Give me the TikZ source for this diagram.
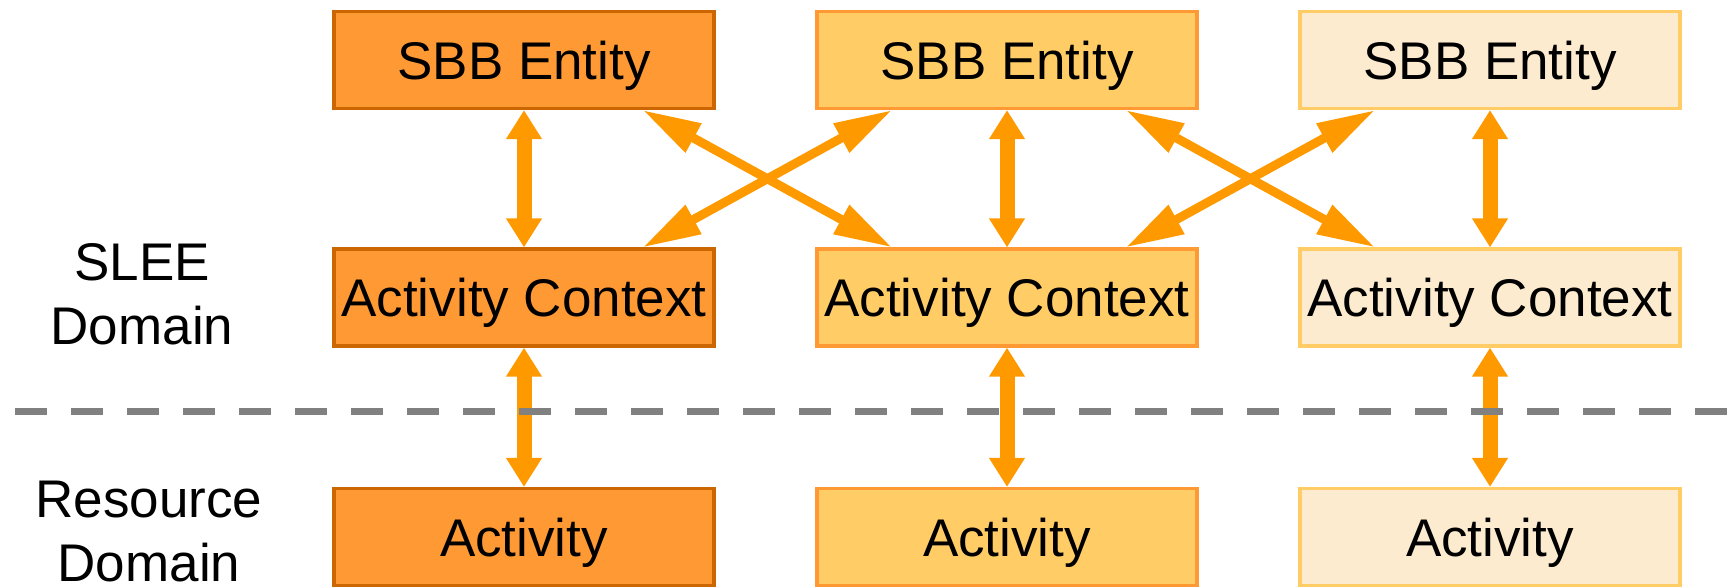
\documentclass[tikz,border=0pt]{standalone}
\usepackage{fontspec}
\setmainfont{Liberation Sans}
\usetikzlibrary{arrows.meta,calc}
\definecolor{orangeA}{HTML}{FF9933}
\definecolor{orangeAline}{HTML}{CC6600}
\definecolor{orangeB}{HTML}{FFCC66}
\definecolor{orangeBline}{HTML}{FF9933}
\definecolor{orangeC}{HTML}{FCEBCE}
\definecolor{orangeCline}{HTML}{FFCC66}
\definecolor{linkorange}{HTML}{FF9900}
\tikzset{
  >=latex,
  box/.style={draw,line width=1.6pt,minimum width=190pt,minimum height=48.5pt,
    inner sep=0pt,text height=19pt,text depth=0pt,font=\fontsize{26.5}{32}\selectfont},
  boxA/.style={box,fill=orangeA,draw=orangeAline},
  boxB/.style={box,fill=orangeB,draw=orangeBline},
  boxC/.style={box,fill=orangeC,draw=orangeCline},
  domainlabel/.style={align=center,font=\fontsize{26.5}{32}\selectfont},
  vlink/.style={linkorange,line width=7.5pt,
    {Triangle[length=14.5pt,width=17pt]}-{Triangle[length=14.5pt,width=17pt]}},
  xlink/.style={linkorange,line width=4.5pt,
    {Triangle[length=29pt,width=15.5pt]}-{Triangle[length=29pt,width=15.5pt]}}
}

\begin{document}
\begin{tikzpicture}[x=0.5pt,y=-0.5pt]
      \useasboundingbox (0,0) rectangle (1727,586);
      % labels on the left
      \node[domainlabel] (slee) at (142,294) {SLEE\\Domain};
      \node[domainlabel] (resource) at (149,532) {Resource\\Domain};
      % SBB entities
      \node[boxA] (sbb1) at (524,60) {SBB Entity};
      \node[boxB] (sbb2) at (1007,60) {SBB Entity};
      \node[boxC] (sbb3) at (1490,60) {SBB Entity};
      % activity contexts
      \node[boxA] (ac1) at (524,297.5) {Activity Context};
      \node[boxB] (ac2) at (1007,297.5) {Activity Context};
      \node[boxC] (ac3) at (1490,297.5) {Activity Context};
      % activities
      \node[boxA] (act1) at (524,537) {Activity};
      \node[boxB] (act2) at (1007,537) {Activity};
      \node[boxC] (act3) at (1490,537) {Activity};
      % links
      \draw[vlink] (sbb1) -- (ac1);
      \draw[vlink] (sbb2) -- (ac2);
      \draw[vlink] (sbb3) -- (ac3);
      \draw[vlink] (ac1) -- (act1);
      \draw[vlink] (ac2) -- (act2);
      \draw[vlink] (ac3) -- (act3);
      \draw[xlink] ($(sbb1.south west)!0.81!(sbb1.south east)$) -- ($(ac2.north west)!0.2!(ac2.north east)$);
      \draw[xlink] ($(ac1.north west)!0.81!(ac1.north east)$) -- ($(sbb2.south west)!0.2!(sbb2.south east)$);
      \draw[xlink] ($(sbb2.south west)!0.81!(sbb2.south east)$) -- ($(ac3.north west)!0.2!(ac3.north east)$);
      \draw[xlink] ($(ac2.north west)!0.81!(ac2.north east)$) -- ($(sbb3.south west)!0.2!(sbb3.south east)$);
      % domain border
      \coordinate (borderL) at (15,411);
      \coordinate (borderR) at (1727,411);
      \draw[gray,line width=3.5pt,dash pattern=on 16pt off 12pt] (borderL) -- (borderR);
    \end{tikzpicture}
\end{document}
